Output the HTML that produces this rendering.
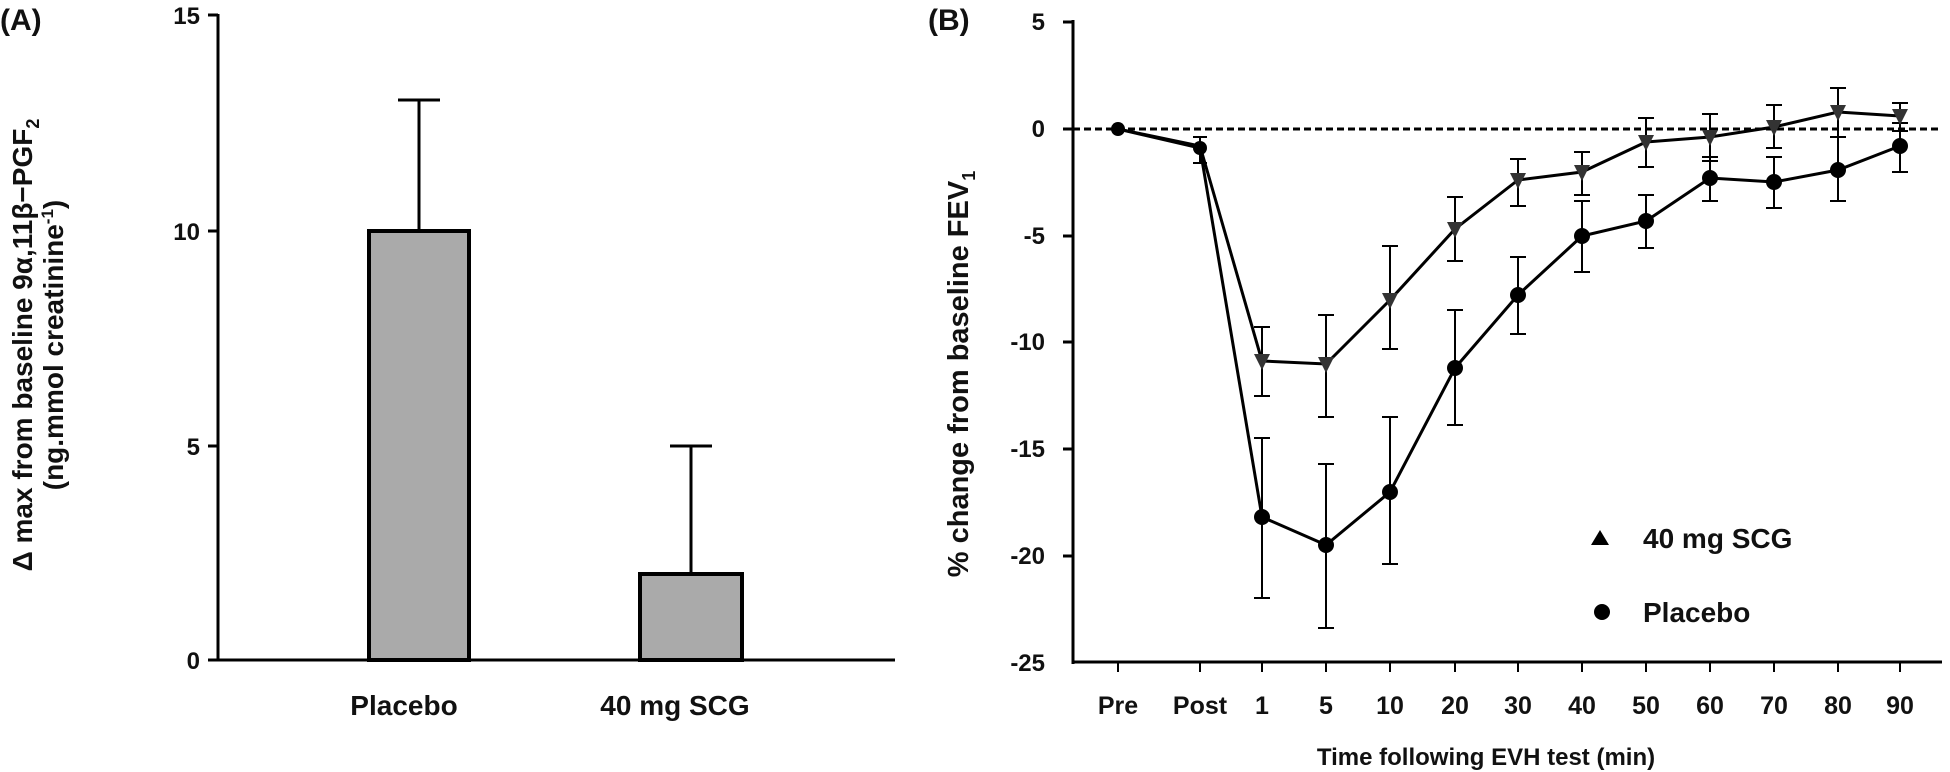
<!DOCTYPE html>
<html><head><meta charset="utf-8"><style>
html,body{margin:0;padding:0;background:#fff;}
svg{display:block;}
text{font-family:"Liberation Sans",sans-serif;font-weight:bold;fill:#111;}
</style></head><body>
<svg width="1950" height="772" viewBox="0 0 1950 772" xmlns="http://www.w3.org/2000/svg">
<!-- Panel A -->
<text x="0" y="30" font-size="30">(A)</text>
<g stroke="#000" stroke-width="3" fill="none">
<line x1="218" y1="14" x2="218" y2="661"/>
<line x1="217" y1="660" x2="895" y2="660"/>
<line x1="208" y1="15" x2="218" y2="15"/>
<line x1="208" y1="231" x2="218" y2="231"/>
<line x1="208" y1="446" x2="218" y2="446"/>
<line x1="208" y1="660" x2="218" y2="660"/>
</g>
<g font-size="24" text-anchor="end">
<text x="200" y="24">15</text>
<text x="200" y="240">10</text>
<text x="200" y="455">5</text>
<text x="200" y="669">0</text>
</g>
<rect x="369" y="231" width="100" height="429" fill="#aaa" stroke="#000" stroke-width="4"/>
<rect x="640" y="574" width="102" height="86" fill="#aaa" stroke="#000" stroke-width="4"/>
<g stroke="#000" stroke-width="3">
<line x1="419" y1="231" x2="419" y2="100"/><line x1="398" y1="100" x2="440" y2="100"/>
<line x1="691" y1="574" x2="691" y2="446"/><line x1="670" y1="446" x2="712" y2="446"/>
</g>
<g font-size="28" text-anchor="middle">
<text x="404" y="715">Placebo</text>
<text x="675" y="715">40 mg SCG</text>
</g>
<g transform="translate(32,345) rotate(-90)" font-size="28" text-anchor="middle">
<text x="0" y="0">Δ max from baseline 9α,11β−PGF<tspan font-size="18" dy="7">2</tspan></text>
<text x="0" y="31">(ng.mmol creatinine<tspan font-size="17" dy="-10">-1</tspan><tspan dy="10">)</tspan></text>
</g>
<!-- Panel B -->
<text x="928" y="30" font-size="30">(B)</text>
<g stroke="#000" stroke-width="3" fill="none">
<line x1="1073" y1="20" x2="1073" y2="664"/>
<line x1="1072" y1="662" x2="1942" y2="662"/>
<line x1="1063" y1="22" x2="1073" y2="22"/>
<line x1="1063" y1="129" x2="1073" y2="129"/>
<line x1="1063" y1="236" x2="1073" y2="236"/>
<line x1="1063" y1="342" x2="1073" y2="342"/>
<line x1="1063" y1="449" x2="1073" y2="449"/>
<line x1="1063" y1="556" x2="1073" y2="556"/>
</g>
<g stroke="#000" stroke-width="2">
<line x1="1118" y1="662" x2="1118" y2="672"/><line x1="1200" y1="662" x2="1200" y2="672"/>
<line x1="1262" y1="662" x2="1262" y2="672"/><line x1="1326" y1="662" x2="1326" y2="672"/>
<line x1="1390" y1="662" x2="1390" y2="672"/><line x1="1455" y1="662" x2="1455" y2="672"/>
<line x1="1518" y1="662" x2="1518" y2="672"/><line x1="1582" y1="662" x2="1582" y2="672"/>
<line x1="1646" y1="662" x2="1646" y2="672"/><line x1="1710" y1="662" x2="1710" y2="672"/>
<line x1="1774" y1="662" x2="1774" y2="672"/><line x1="1838" y1="662" x2="1838" y2="672"/>
<line x1="1900" y1="662" x2="1900" y2="672"/>
</g>
<g font-size="24" text-anchor="end">
<text x="1045" y="30">5</text>
<text x="1045" y="137">0</text>
<text x="1045" y="244">-5</text>
<text x="1045" y="350">-10</text>
<text x="1045" y="457">-15</text>
<text x="1045" y="564">-20</text>
<text x="1045" y="671">-25</text>
</g>
<g font-size="25" text-anchor="middle">
<text x="1118" y="714">Pre</text><text x="1200" y="714">Post</text>
<text x="1262" y="714">1</text><text x="1326" y="714">5</text>
<text x="1390" y="714">10</text><text x="1455" y="714">20</text>
<text x="1518" y="714">30</text><text x="1582" y="714">40</text>
<text x="1646" y="714">50</text><text x="1710" y="714">60</text>
<text x="1774" y="714">70</text><text x="1838" y="714">80</text>
<text x="1900" y="714">90</text>
<text x="1486" y="765" font-size="24">Time following EVH test (min)</text>
</g>
<g transform="translate(968,374) rotate(-90)" font-size="29" text-anchor="middle">
<text x="0" y="0">% change from baseline FEV<tspan font-size="18" dy="7">1</tspan></text>
</g>
<line x1="1073" y1="129" x2="1942" y2="129" stroke="#000" stroke-width="3" stroke-dasharray="7,4"/>
<!-- error bars -->
<g stroke="#000" stroke-width="2">
<path d="M1200 137V163M1193 137H1207M1193 163H1207"/>
<path d="M1262 327V396M1254 327H1270M1254 396H1270"/>
<path d="M1326 315V417M1318 315H1334M1318 417H1334"/>
<path d="M1390 246V349M1382 246H1398M1382 349H1398"/>
<path d="M1455 197V261M1447 197H1463M1447 261H1463"/>
<path d="M1518 159V206M1510 159H1526M1510 206H1526"/>
<path d="M1582 152V195M1574 152H1590M1574 195H1590"/>
<path d="M1646 118V167M1638 118H1654M1638 167H1654"/>
<path d="M1710 114V161M1702 114H1718M1702 161H1718"/>
<path d="M1774 105V148M1766 105H1782M1766 148H1782"/>
<path d="M1838 88V137M1830 88H1846M1830 137H1846"/>
<path d="M1900 103V131M1892 103H1908M1892 131H1908"/>
<path d="M1262 438V598M1254 438H1270M1254 598H1270"/>
<path d="M1326 464V628M1318 464H1334M1318 628H1334"/>
<path d="M1390 417V564M1382 417H1398M1382 564H1398"/>
<path d="M1455 310V425M1447 310H1463M1447 425H1463"/>
<path d="M1518 257V334M1510 257H1526M1510 334H1526"/>
<path d="M1582 201V272M1574 201H1590M1574 272H1590"/>
<path d="M1646 195V248M1638 195H1654M1638 248H1654"/>
<path d="M1710 157V201M1702 157H1718M1702 201H1718"/>
<path d="M1774 157V208M1766 157H1782M1766 208H1782"/>
<path d="M1838 137V201M1830 137H1846M1830 201H1846"/>
<path d="M1900 123V172M1892 123H1908M1892 172H1908"/>
</g>
<!-- lines -->
<polyline fill="none" stroke="#000" stroke-width="3" points="1118,129 1200,146 1262,361 1326,364 1390,300 1455,229 1518,180 1582,172 1646,142 1710,137 1774,127 1838,112 1900,116"/>
<polyline fill="none" stroke="#000" stroke-width="3" points="1118,129 1200,148 1262,517 1326,545 1390,492 1455,368 1518,295 1582,236 1646,221 1710,178 1774,182 1838,170 1900,146"/>
<!-- markers -->
<g fill="#000">
<circle cx="1118" cy="129" r="7"/><circle cx="1200" cy="148" r="7"/>
<circle cx="1262" cy="517" r="8"/><circle cx="1326" cy="545" r="8"/>
<circle cx="1390" cy="492" r="8"/><circle cx="1455" cy="368" r="8"/>
<circle cx="1518" cy="295" r="8"/><circle cx="1582" cy="236" r="8"/>
<circle cx="1646" cy="221" r="8"/><circle cx="1710" cy="178" r="8"/>
<circle cx="1774" cy="182" r="8"/><circle cx="1838" cy="170" r="8"/>
<circle cx="1900" cy="146" r="8"/>
</g>
<g fill="#333">
<polygon points="1254,354 1270,354 1262,370"/>
<polygon points="1318,357 1334,357 1326,373"/>
<polygon points="1382,293 1398,293 1390,309"/>
<polygon points="1447,222 1463,222 1455,238"/>
<polygon points="1510,173 1526,173 1518,189"/>
<polygon points="1574,165 1590,165 1582,181"/>
<polygon points="1638,135 1654,135 1646,151"/>
<polygon points="1702,130 1718,130 1710,146"/>
<polygon points="1766,120 1782,120 1774,136"/>
<polygon points="1830,105 1846,105 1838,121"/>
<polygon points="1892,109 1908,109 1900,125"/>
</g>
<!-- legend -->
<polygon points="1591,545 1609,545 1600,530" fill="#000"/>
<circle cx="1602" cy="612" r="8" fill="#000"/>
<g font-size="28">
<text x="1643" y="548">40 mg SCG</text>
<text x="1643" y="622">Placebo</text>
</g>
</svg>
</body></html>
